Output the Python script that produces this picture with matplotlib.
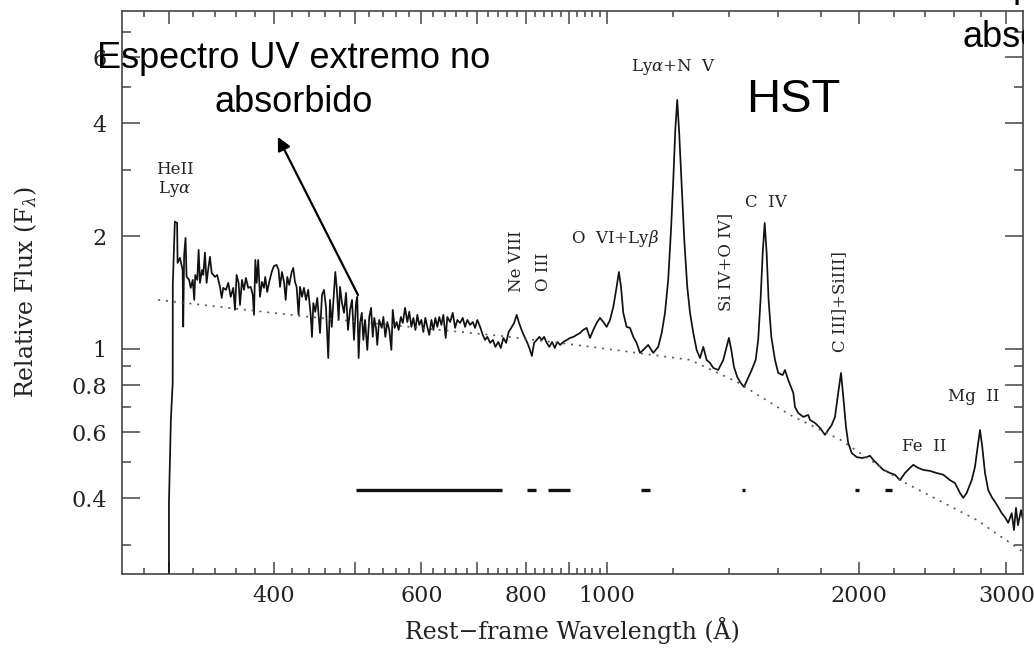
import matplotlib
matplotlib.use('Agg')
import matplotlib.pyplot as plt
from matplotlib.ticker import FixedLocator, FixedFormatter, NullFormatter
from matplotlib.transforms import Bbox, TransformedBbox

# composite quasar spectrum (Angstrom, relative F_lambda)
wave = [299.6, 299.6, 301.2, 302.7, 302.8, 304.5, 306.4, 306.8, 308.8, 311.1, 311.6, 312.4,
        313.6, 314.5, 316.7, 318.1, 319.9, 321.2, 322.1, 323.9, 325.1, 326.3, 328.1, 329.3,
        330.8, 332.3, 333.7, 335.4, 337.0, 340.0, 342.1, 344.8, 346.4, 347.9, 350.5, 352.7,
        355.1, 357.6, 359.3, 360.9, 362.9, 364.3, 366.3, 368.3, 370.3, 372.6, 375.2, 377.3,
        378.6, 380.0, 381.4, 383.0, 384.9, 387.0, 389.1, 390.5, 392.6, 394.8, 397.5, 399.9,
        402.9, 405.1, 406.7, 408.9, 411.2, 413.1, 414.9, 417.1, 420.0, 421.8, 423.8, 425.7,
        428.0, 429.7, 432.1, 434.4, 436.8, 439.5, 442.5, 444.1, 445.7, 448.1, 450.6, 454.0,
        456.5, 459.0, 461.5, 464.4, 466.7, 468.9, 470.9, 473.5, 475.3, 477.9, 479.7, 482.3,
        485.0, 487.7, 490.3, 493.1, 495.8, 498.5, 501.3, 503.0, 504.9, 506.9, 509.3, 511.5,
        513.9, 517.1, 519.9, 522.5, 524.9, 527.1, 529.6, 531.5, 534.3, 538.1, 540.5, 543.4,
        546.4, 549.3, 552.5, 554.6, 557.6, 560.6, 563.7, 567.0, 570.1, 573.7, 577.3, 580.4,
        583.8, 587.0, 590.2, 593.4, 596.6, 600.1, 603.3, 606.6, 609.9, 613.2, 616.8, 620.2,
        623.6, 627.0, 630.3, 634.0, 637.4, 641.6, 644.4, 649.4, 654.2, 658.4, 662.5, 667.5,
        672.4, 676.7, 680.9, 686.1, 691.2, 695.6, 699.9, 705.3, 710.5, 715.0, 719.5, 725.0,
        730.4, 735.6, 741.5, 746.6, 752.0, 757.6, 763.0, 769.6, 774.4, 780.1, 784.3, 788.9,
        793.2, 798.3, 803.2, 807.6, 813.2, 818.3, 824.3, 830.1, 835.8, 841.1, 847.2, 853.2,
        859.9, 866.2, 872.4, 879.0, 887.0, 895.2, 903.5, 911.7, 920.1, 928.4, 936.8, 945.5,
        954.3, 963.0, 971.9, 980.9, 989.8, 999.0, 1008.3, 1017.5, 1026.9, 1033.3, 1039.3, 1045.8,
        1055.5, 1065.3, 1075.0, 1084.9, 1095.0, 1105.0, 1120.0, 1135.8, 1151.3, 1162.4, 1173.0, 1183.4,
        1192.6, 1200.1, 1206.7, 1213.2, 1219.7, 1228.2, 1236.9, 1247.1, 1256.6, 1268.0, 1279.7, 1291.6,
        1303.4, 1315.4, 1327.6, 1339.7, 1357.9, 1377.1, 1389.8, 1398.5, 1407.8, 1418.2, 1431.0, 1444.6,
        1457.8, 1470.9, 1489.1, 1505.4, 1515.9, 1526.4, 1534.8, 1543.2, 1551.5, 1559.9, 1571.6, 1587.6,
        1601.7, 1621.6, 1631.9, 1646.4, 1669.7, 1677.4, 1692.3, 1716.2, 1739.5, 1748.2, 1772.3, 1796.9,
        1821.7, 1837.9, 1855.7, 1872.5, 1889.1, 1903.9, 1915.9, 1930.1, 1941.9, 1960.7, 1987.4, 2015.4,
        2042.9, 2061.9, 2080.7, 2108.9, 2138.8, 2178.6, 2208.7, 2239.4, 2270.3, 2301.8, 2322.7, 2354.3,
        2387.5, 2432.0, 2476.7, 2522.7, 2569.6, 2605.1, 2641.3, 2665.3, 2689.9, 2727.8, 2752.5, 2772.6,
        2790.7, 2808.3, 2829.2, 2854.3, 2882.1, 2908.2, 2934.0, 2962.5, 2989.3, 3015.8, 3045.1, 3064.2,
        3081.2, 3098.2, 3124.1, 3141.2]
flux = [0.15, 0.389, 0.647, 0.812, 1.482, 2.185, 2.168, 1.695, 1.749, 1.624, 1.147, 1.781,
        1.978, 1.559, 1.528, 1.455, 1.528, 1.351, 1.575, 1.528, 1.837, 1.500, 1.624, 1.575,
        1.807, 1.500, 1.624, 1.760, 1.594, 1.556, 1.575, 1.464, 1.368, 1.455, 1.437, 1.500,
        1.377, 1.455, 1.271, 1.575, 1.500, 1.310, 1.528, 1.437, 1.547, 1.455, 1.464, 1.394,
        1.233, 1.727, 1.500, 1.727, 1.377, 1.509, 1.455, 1.556, 1.419, 1.509, 1.604, 1.664,
        1.675, 1.624, 1.464, 1.604, 1.509, 1.351, 1.556, 1.482, 1.604, 1.644, 1.509, 1.464,
        1.233, 1.464, 1.377, 1.455, 1.351, 1.437, 1.233, 1.077, 1.326, 1.256, 1.368, 1.103,
        1.394, 1.437, 1.294, 0.946, 1.351, 1.145, 1.326, 1.604, 1.464, 1.195, 1.464, 1.326,
        1.248, 1.411, 1.124, 1.271, 1.351, 1.057, 1.326, 1.377, 0.946, 1.173, 1.248, 1.057,
        1.195, 0.994, 1.217, 1.287, 1.077, 1.210, 1.138, 1.025, 1.195, 1.138, 1.217, 1.077,
        1.180, 1.124, 0.994, 1.271, 1.138, 1.180, 1.124, 1.217, 1.173, 1.287, 1.180, 1.256,
        1.145, 1.210, 1.124, 1.233, 1.159, 1.195, 1.110, 1.210, 1.145, 1.090, 1.195, 1.124,
        1.210, 1.145, 1.217, 1.159, 1.233, 1.070, 1.217, 1.180, 1.248, 1.138, 1.195, 1.173,
        1.210, 1.145, 1.195, 1.159, 1.180, 1.138, 1.195, 1.145, 1.090, 1.057, 1.077, 1.038,
        1.057, 1.013, 1.044, 1.006, 1.070, 1.038, 1.110, 1.145, 1.173, 1.233, 1.180, 1.138,
        1.103, 1.070, 1.038, 1.006, 0.958, 1.038, 1.057, 1.077, 1.057, 1.077, 1.038, 1.013,
        1.044, 1.006, 1.044, 1.025, 1.044, 1.057, 1.070, 1.077, 1.090, 1.103, 1.124, 1.138,
        1.070, 1.124, 1.173, 1.210, 1.180, 1.145, 1.195, 1.294, 1.464, 1.604, 1.464, 1.248,
        1.145, 1.138, 1.077, 1.038, 0.976, 0.994, 1.025, 0.976, 1.013, 1.103, 1.248, 1.528,
        2.077, 2.823, 3.837, 4.613, 3.767, 2.704, 1.953, 1.464, 1.248, 1.103, 0.994, 0.946,
        1.013, 0.935, 0.918, 0.890, 0.879, 0.935, 1.013, 1.070, 0.994, 0.895, 0.842, 0.812,
        0.792, 0.827, 0.879, 0.935, 1.057, 1.377, 1.803, 2.168, 1.803, 1.351, 1.077, 0.935,
        0.863, 0.852, 0.879, 0.827, 0.763, 0.700, 0.675, 0.659, 0.667, 0.647, 0.635, 0.616,
        0.590, 0.608, 0.627, 0.659, 0.763, 0.863, 0.744, 0.620, 0.562, 0.528, 0.515, 0.512,
        0.515, 0.519, 0.506, 0.491, 0.476, 0.467, 0.462, 0.447, 0.467, 0.482, 0.491, 0.482,
        0.476, 0.473, 0.467, 0.462, 0.447, 0.439, 0.413, 0.401, 0.413, 0.447, 0.485, 0.548,
        0.608, 0.548, 0.467, 0.421, 0.403, 0.391, 0.379, 0.365, 0.356, 0.344, 0.365, 0.329,
        0.377, 0.339, 0.372, 0.350]

# broken power-law continuum (dotted)
cont_wave = [290.9, 429.7, 759.2, 954.3, 1095.0, 1256.6, 1428.6, 1654.6, 1901.8, 2239.4, 2765.8, 3141.2]
cont_flux = [1.351, 1.225, 1.079, 1.014, 0.974, 0.935, 0.818, 0.667, 0.572, 0.447, 0.350, 0.288]

# continuum fitting windows
win_lo = [501.3, 803.2, 849.5, 1098.9, 1449.1, 1977.8, 2148.1]
win_hi = [748.7, 822.4, 903.0, 1125.3, 1462.5, 2002.2, 2188.8]
win_level = 0.421

xmajor = [300, 400, 500, 600, 700, 800, 900, 1000, 2000, 3000]
xmajor_labels = ['', '400', '', '600', '', '800', '', '1000', '2000', '3000']
xminor = [w for w in range(280, 1000, 20) if w % 100] + [1200, 1400, 1600, 1800, 2200, 2400, 2600, 2800]
ymajor = [0.4, 0.6, 0.8, 1, 2, 4, 6]
ymajor_labels = ['0.4', '0.6', '0.8', '1', '2', '4', '6']
yminor = [0.3, 0.5, 0.7, 0.9, 3, 5, 7]

plt.rcParams['font.family'] = 'DejaVu Serif'
plt.rcParams['mathtext.fontset'] = 'dejavuserif'

W, H = 1034, 653
fig = plt.figure(figsize=(W / 100, H / 100), dpi=100)
ax = fig.add_axes([122 / W, 1 - 573.5 / H, 901 / W, 562.5 / H])

ax.plot(wave, flux, color='#111111', lw=1.25)
ax.plot(cont_wave, cont_flux, color='#555555', lw=1.2, ls=(0, (1.2, 3.5)))
ax.hlines([win_level] * len(win_lo), win_lo, win_hi, color='#111111', lw=2.4)

ax.set_xscale('log')
ax.set_yscale('log')
ax.set_xlim(263.3, 3141.2)
ax.set_ylim(0.252, 7.96)

ax.xaxis.set_major_locator(FixedLocator(xmajor))
ax.xaxis.set_major_formatter(FixedFormatter(xmajor_labels))
ax.xaxis.set_minor_locator(FixedLocator(xminor))
ax.xaxis.set_minor_formatter(NullFormatter())
ax.yaxis.set_major_locator(FixedLocator(ymajor))
ax.yaxis.set_major_formatter(FixedFormatter(ymajor_labels))
ax.yaxis.set_minor_locator(FixedLocator(yminor))
ax.yaxis.set_minor_formatter(NullFormatter())

ax.tick_params(which='both', direction='in', top=True, right=True,
               color='#444444', labelcolor='#222222', labelsize=16, width=1.1)
ax.tick_params(axis='x', which='major', length=9, pad=8)
ax.tick_params(axis='x', which='minor', length=4.5)
ax.tick_params(axis='y', which='major', length=13, pad=11)
ax.tick_params(axis='y', which='minor', length=6.5)
for s in ax.spines.values():
    s.set_color('#444444')
    s.set_linewidth(1.2)

ax.set_xlabel('Rest\u2212frame Wavelength (Å)', fontsize=17, color='#222222')
ax.set_ylabel(r'Relative Flux (F$_\lambda$)', fontsize=17, color='#222222')
ax.xaxis.set_label_coords(0.5, -0.077)
ax.yaxis.set_label_coords(-0.092, 0.5)

# emission line labels
lab = dict(fontsize=12, color='#222222', ha='center', va='center')
ax.text(304.5, 2.82, 'HeII\nLy$\\alpha$', linespacing=1.1, **lab)
ax.text(1200.7, 5.65, 'Ly$\\alpha$+N  V', **lab)
ax.text(1022, 1.965, 'O  VI+Ly$\\beta$', **lab)
ax.text(1546.6, 2.45, 'C  IV', **lab)
ax.text(2745, 0.745, 'Mg  II', **lab)
ax.text(2392, 0.548, 'Fe  II', **lab)
ax.text(778.7, 1.717, 'Ne VIII', rotation=90, **lab)
ax.text(838.8, 1.604, 'O III', rotation=90, **lab)
ax.text(1387.2, 1.706, 'Si IV+O IV]', rotation=90, **lab)
ax.text(1898.6, 1.335, 'C III]+SiIII]', rotation=90, **lab)

ax.annotate('', xy=(404.3, 3.675), xytext=(504, 1.393),
            arrowprops=dict(arrowstyle='-|>', color='black', lw=1.6,
                            mutation_scale=20, shrinkA=0, shrinkB=0))

# overlay captions (figure pixels)
sans = dict(family='Liberation Sans', color='black', ha='center', va='baseline', zorder=5)
fig.text(294 / W, 1 - 68 / H, 'Espectro UV extremo no', fontsize=26, **sans)
fig.text(294 / W, 1 - 112 / H, 'absorbido', fontsize=26, **sans)
fig.text(793 / W, 1 - 112 / H, 'HST', fontsize=34, **sans)
# caption on the right is cut at the frame edge in the original
clip = TransformedBbox(Bbox([[0, 0], [1024 / W, 1]]), fig.transFigure)
for txt, yb in [('Espectro', -3), ('absorbido', 47)]:
    t = fig.text(1042 / W, 1 - yb / H, txt, fontsize=26, **sans)
    t.set_clip_box(clip)
    t.set_clip_on(True)

fig.savefig('out.png', dpi=100, facecolor='white')
